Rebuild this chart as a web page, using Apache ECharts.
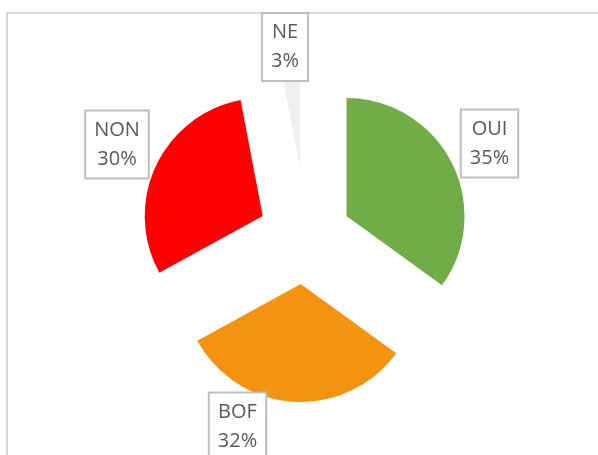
<!DOCTYPE html>
<html>
<head>
<meta charset="utf-8">
<script src="https://cdn.jsdelivr.net/npm/echarts@6/dist/echarts.min.js"></script>
<style>
  html, body { margin: 0; padding: 0; background: #fff; }
  #chart { width: 598px; height: 455px; }
</style>
</head>
<body>
<div id="chart"></div>
<script>
// données
const categories = ['OUI', 'BOF', 'NON', 'NE'];
const values = [35, 32, 30, 3];
const colors = ['#70AD47', '#F4930F', '#FF0000', '#F0F0F0'];

// mise en page : centre de chaque part détachée, centre de chaque étiquette
const sliceCenters = [[346.5, 216], [300.7, 284], [262.7, 216], [300, 168]];
const labelCenters = [[489.5, 143.5], [237.5, 426.5], [117, 144.5], [285, 47]];
const pieRadius = 118;

const myChart = echarts.init(document.getElementById('chart'));

let series = [];
categories.forEach((name, i) => {
  series.push({
    type: 'pie',
    name: name,
    center: sliceCenters[i],
    radius: pieRadius,
    startAngle: 90,
    clockwise: true,
    silent: true,
    animation: false,
    avoidLabelOverlap: false,
    itemStyle: { borderWidth: 0 },
    emphasis: { disabled: true },
    label: {
      show: true,
      formatter: (p) => p.name + '\n' + Math.round(p.percent) + '%',
      fontFamily: 'Open Sans',
      fontSize: 20,
      lineHeight: 29,
      color: '#595959',
      backgroundColor: '#fff',
      borderColor: '#BFBFBF',
      borderWidth: 2,
      padding: [4, 8],
      align: 'center',
    },
    labelLine: { show: false },
    labelLayout: () => ({
      x: labelCenters[i][0],
      y: labelCenters[i][1],
      align: 'center',
      verticalAlign: 'middle',
    }),
    data: categories.map((c, j) => ({
      name: c,
      value: values[j],
      itemStyle: { color: j === i ? colors[j] : 'rgba(0,0,0,0)' },
      label: { show: j === i },
    })),
  });
});

let option = {
  backgroundColor: '#fff',
  graphic: [
    {
      type: 'rect',
      z: -1,
      silent: true,
      shape: { x: 7, y: 13, width: 700, height: 700 },
      style: { fill: 'none', stroke: '#D9D9D9', lineWidth: 2 },
    },
  ],
  series: series,
};
myChart.setOption(option);
</script>
</body>
</html>
